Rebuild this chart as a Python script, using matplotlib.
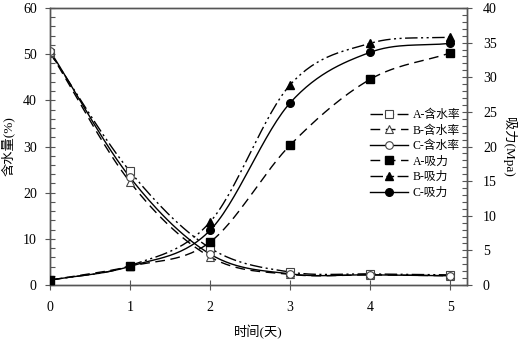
import numpy as np
import matplotlib
matplotlib.use("Agg")
import matplotlib.pyplot as plt
from matplotlib.lines import Line2D
from matplotlib.ticker import MultipleLocator

plt.rcParams['font.family'] = ['Liberation Serif', 'Noto Sans CJK SC']

days = [0, 1, 2, 3, 4, 5]
water_A = [50.3, 24.6, 8.0, 2.8, 2.4, 2.2]
water_B = [50.4, 22.3, 6.1, 2.3, 2.2, 2.0]
water_C = [50.7, 23.3, 6.7, 2.4, 2.2, 2.0]
suction_A = [0.7, 2.7, 6.2, 20.2, 29.7, 33.5]
suction_B = [0.7, 2.8, 9.1, 28.9, 34.9, 35.8]
suction_C = [0.7, 2.7, 7.9, 26.3, 33.6, 34.9]
labels = ['A-含水率', 'B-含水率', 'C-含水率', 'A-吸力', 'B-吸力', 'C-吸力']


def smooth(x, y, n=30):
    x = np.asarray(x, float)
    y = np.asarray(y, float)
    P = np.column_stack([x, y])
    Pext = np.vstack([P[0] - (P[1] - P[0]), P, P[-1] + (P[-1] - P[-2])])
    out = []
    for i in range(1, len(Pext) - 2):
        p0, p1, p2, p3 = Pext[i - 1], Pext[i], Pext[i + 1], Pext[i + 2]
        t = np.linspace(0, 1, n, endpoint=False)[:, None]
        seg = 0.5 * ((2 * p1) + (-p0 + p2) * t + (2 * p0 - 5 * p1 + 4 * p2 - p3) * t ** 2
                     + (-p0 + 3 * p1 - 3 * p2 + p3) * t ** 3)
        out.append(seg)
    out.append(P[-1:])
    S = np.vstack(out)
    return S[:, 0], S[:, 1]


dashdotdot = (0, (9, 2.5, 1.5, 2.5, 1.5, 2.5))
dashed = (0, (7, 4))
solid = '-'

fig = plt.figure(figsize=(5.19, 3.40), dpi=100)
ax = fig.add_axes([50 / 519, 1 - 285 / 340, (467 - 50) / 519, (285 - 8) / 340])
ax2 = ax.twinx()

lw = 1.0
ms = 5.5
water = [(water_A, 's', dashdotdot), (water_B, '^', dashed), (water_C, 'o', solid)]
suct = [(suction_A, 's', dashed), (suction_B, '^', dashdotdot), (suction_C, 'o', solid)]

handles = []
for (vals, mk, ls) in water:
    sx, sy = smooth(days, vals)
    ax.plot(sx, sy, color='black', lw=lw, linestyle=ls, zorder=2)
    ax.plot(days, vals, linestyle='none', marker=mk, ms=ms, mfc='white', mec='#444444', mew=0.8, zorder=3)
    handles.append(Line2D([], [], color='black', lw=lw, linestyle=ls, marker=mk, ms=ms,
                          mfc='white', mec='#444444', mew=0.8))
for (vals, mk, ls) in suct:
    sx, sy = smooth(days, vals)
    ax2.plot(sx, sy, color='black', lw=lw, linestyle=ls, zorder=2)
    ax2.plot(days, vals, linestyle='none', marker=mk, ms=ms, mfc='black', mec='black', zorder=3)
    handles.append(Line2D([], [], color='black', lw=lw, linestyle=ls, marker=mk, ms=ms,
                          mfc='black', mec='black'))

ax.set_xlim(0, 5.21)
ax.set_ylim(0, 60)
ax2.set_ylim(0, 40)

ax.xaxis.set_major_locator(MultipleLocator(1))
ax.yaxis.set_major_locator(MultipleLocator(10))
ax.yaxis.set_minor_locator(MultipleLocator(2))
ax2.yaxis.set_major_locator(MultipleLocator(5))
ax2.yaxis.set_minor_locator(MultipleLocator(1))

spine_c = '#555555'
for a in (ax, ax2):
    for s in a.spines.values():
        s.set_color(spine_c)
        s.set_linewidth(1.0)

ax.tick_params(axis='x', which='major', direction='inout', length=7, width=0.8, color=spine_c,
               labelsize=10, pad=8)
ax.tick_params(axis='y', which='major', direction='inout', length=7, width=0.8, color=spine_c,
               labelsize=10, pad=6)
ax.tick_params(axis='y', which='minor', direction='in', length=3.5, width=0.8, color=spine_c)
ax2.tick_params(axis='y', which='major', direction='inout', length=7, width=0.8, color=spine_c,
                labelsize=10, pad=8)
ax2.tick_params(axis='y', which='minor', direction='in', length=3.5, width=0.8, color=spine_c)

ax.set_xlabel('时间(天)', fontsize=9.5, labelpad=8)
ax.set_ylabel('含水量(%)', fontsize=9.5, labelpad=6)
ax2.set_ylabel('吸力(Mpa)', fontsize=9.5, rotation=-90, labelpad=14)

leg = ax2.legend(handles, labels, loc='upper left', bbox_to_anchor=((370 - 50) / 417, (285 - 109) / 277),
                 frameon=False, fontsize=8.5, handlelength=3.2, handletextpad=0.4,
                 labelspacing=0.3, borderaxespad=0, borderpad=0)

fig.savefig('out.png', dpi=100)
